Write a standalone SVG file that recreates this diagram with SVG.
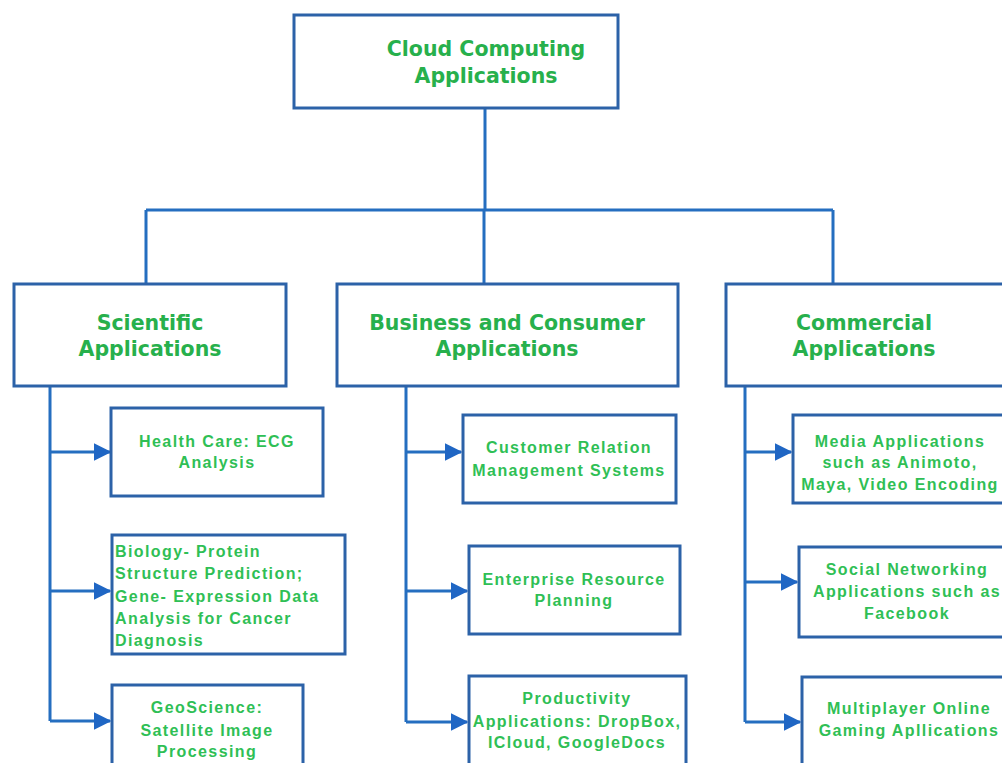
<svg xmlns="http://www.w3.org/2000/svg" width="1002" height="763" viewBox="0 0 1002 763">
<style>
.box{fill:#fff;stroke:#2c62a8;stroke-width:3}
.big{font-family:"DejaVu Sans",sans-serif;font-weight:bold;font-size:20.5px;fill:#27b04c;text-anchor:middle}
.sm{font-family:"Liberation Sans",Arial,sans-serif;font-weight:bold;font-size:16px;letter-spacing:1.4px;fill:#2fbf55;text-anchor:middle}
.ln{fill:none;stroke:#256ec0;stroke-width:3}
</style>
<defs>
<marker id="ah" markerWidth="6" markerHeight="6" refX="5.5" refY="3" orient="auto" markerUnits="strokeWidth">
<path d="M0,0 L6,3 L0,6 z" fill="#1f66c4"/>
</marker>
</defs>
<rect width="1002" height="763" fill="#fff"/>
<g id="connectors">
<path class="ln" d="M485,108 V210 M146,210 H833 M146,210 V284 M484,210 V284 M833,210 V284"/>
<path class="ln" d="M50,387 V721"/>
<path class="ln" d="M406,387 V722"/>
<path class="ln" d="M745,387 V722"/>
<path class="ln" d="M50,452 H110" marker-end="url(#ah)"/>
<path class="ln" d="M50,591 H110" marker-end="url(#ah)"/>
<path class="ln" d="M50,721 H110" marker-end="url(#ah)"/>
<path class="ln" d="M406,452 H461" marker-end="url(#ah)"/>
<path class="ln" d="M406,591 H467" marker-end="url(#ah)"/>
<path class="ln" d="M406,722 H467" marker-end="url(#ah)"/>
<path class="ln" d="M745,452 H791" marker-end="url(#ah)"/>
<path class="ln" d="M745,582 H797" marker-end="url(#ah)"/>
<path class="ln" d="M745,722 H800" marker-end="url(#ah)"/>
</g>
<g id="root">
<rect class="box" x="294" y="15" width="324" height="93"/>
<text class="big" x="486" y="56">Cloud Computing</text>
<text class="big" x="486" y="83">Applications</text>
</g>
<g id="scientific">
<rect class="box" x="14" y="284" width="272" height="102"/>
<text class="big" x="150" y="330">Scientific</text>
<text class="big" x="150" y="356">Applications</text>
</g>
<g id="business">
<rect class="box" x="337" y="284" width="341" height="102"/>
<text class="big" x="507" y="330">Business and Consumer</text>
<text class="big" x="507" y="356">Applications</text>
</g>
<g id="commercial">
<rect class="box" x="726" y="284" width="290" height="102"/>
<text class="big" x="864" y="330">Commercial</text>
<text class="big" x="864" y="356">Applications</text>
</g>
<g id="healthcare">
<rect class="box" x="111" y="408" width="212" height="88"/>
<text class="sm" x="217" y="447">Health Care: ECG</text>
<text class="sm" x="217" y="468">Analysis</text>
</g>
<g id="biology">
<rect class="box" x="112" y="535" width="233" height="119"/>
<text class="sm" x="115" y="557" style="text-anchor:start">Biology- Protein</text>
<text class="sm" x="115" y="579" style="text-anchor:start">Structure Prediction;</text>
<text class="sm" x="115" y="602" style="text-anchor:start">Gene- Expression Data</text>
<text class="sm" x="115" y="624" style="text-anchor:start">Analysis for Cancer</text>
<text class="sm" x="115" y="646" style="text-anchor:start">Diagnosis</text>
</g>
<g id="geoscience">
<rect class="box" x="112" y="685" width="191" height="90"/>
<text class="sm" x="207" y="713">GeoScience:</text>
<text class="sm" x="207" y="736">Satellite Image</text>
<text class="sm" x="207" y="757">Processing</text>
</g>
<g id="crm">
<rect class="box" x="463" y="415" width="213" height="88"/>
<text class="sm" x="569" y="453">Customer Relation</text>
<text class="sm" x="569" y="476">Management Systems</text>
</g>
<g id="erp">
<rect class="box" x="469" y="546" width="211" height="88"/>
<text class="sm" x="574" y="585">Enterprise Resource</text>
<text class="sm" x="574" y="606">Planning</text>
</g>
<g id="productivity">
<rect class="box" x="469" y="676" width="217" height="100"/>
<text class="sm" x="577" y="704">Productivity</text>
<text class="sm" x="577" y="727">Applications: DropBox,</text>
<text class="sm" x="577" y="748">ICloud, GoogleDocs</text>
</g>
<g id="media">
<rect class="box" x="793" y="415" width="220" height="88"/>
<text class="sm" x="900" y="447">Media Applications</text>
<text class="sm" x="900" y="468">such as Animoto,</text>
<text class="sm" x="900" y="490">Maya, Video Encoding</text>
</g>
<g id="social">
<rect class="box" x="799" y="547" width="215" height="90"/>
<text class="sm" x="907" y="575">Social Networking</text>
<text class="sm" x="907" y="597">Applications such as</text>
<text class="sm" x="907" y="619">Facebook</text>
</g>
<g id="multiplayer">
<rect class="box" x="802" y="677" width="212" height="100"/>
<text class="sm" x="909" y="714">Multiplayer Online</text>
<text class="sm" x="909" y="736">Gaming Apllications</text>
</g>
</svg>
